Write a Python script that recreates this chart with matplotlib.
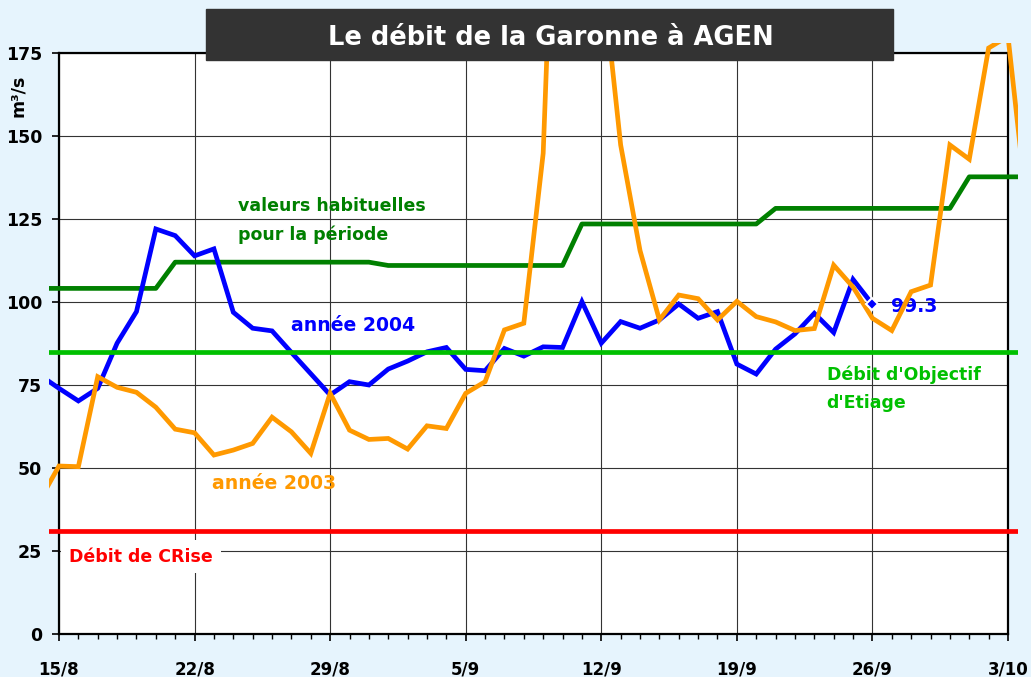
import numpy as np
import matplotlib
matplotlib.use("Agg")
import matplotlib.pyplot as plt
from matplotlib.patches import Rectangle

# jours comptés depuis le 15/8
jours_2003 = np.arange(-1, 51)
debit_2003 = [40.2, 50.6, 50.4, 77.5, 74.3, 72.8, 68.3, 61.7, 60.6, 53.9,
              55.4, 57.4, 65.3, 60.9, 54.4, 72.5, 61.4, 58.6, 58.9, 55.7,
              62.7, 61.9, 72.5, 76.0, 91.6, 93.6, 144.8, 300.0, 260.0, 202.0,
              147.3, 115.5, 94.6, 102.1, 101.0, 94.6, 100.2, 95.6, 94.0, 91.4,
              92.0, 111.1, 104.5, 95.1, 91.4, 103.1, 105.1, 147.3, 143.0, 176.5,
              180.0, 127.0]

jours_2004 = np.arange(-1, 43)
debit_2004 = [78.0, 74.0, 70.2, 74.0, 87.6, 97.1, 122.0, 120.0, 113.9, 116.0,
              96.9, 92.1, 91.3, 84.8, 78.4, 72.0, 76.0, 75.0, 79.8, 82.2,
              85.0, 86.3, 79.7, 79.3, 86.0, 83.7, 86.5, 86.3, 100.1, 87.6,
              94.1, 92.1, 94.6, 99.4, 95.1, 97.1, 81.3, 78.3, 85.8, 90.4,
              96.6, 90.8, 106.8, 99.3]

jours_hab = np.arange(-1, 51)
debit_hab = [104.1, 104.1, 104.1, 104.1, 104.1, 104.1, 104.1,
             112.0, 112.0, 112.0, 112.0, 112.0, 112.0, 112.0, 112.0, 112.0, 112.0, 112.0,
             111.0, 111.0, 111.0, 111.0, 111.0, 111.0, 111.0, 111.0, 111.0, 111.0,
             123.5, 123.5, 123.5, 123.5, 123.5, 123.5, 123.5, 123.5, 123.5, 123.5,
             128.2, 128.2, 128.2, 128.2, 128.2, 128.2, 128.2, 128.2, 128.2, 128.2,
             137.7, 137.7, 137.7, 137.7]

doe = 85      # Débit d'Objectif d'Etiage
dcr = 31      # Débit de CRise

tick_jours = [0, 7, 14, 21, 28, 35, 42, 49]
tick_labels = ["15/8", "22/8", "29/8", "5/9", "12/9", "19/9", "26/9", "3/10"]

fond = "#E6F4FD"
bleu = "#0000FF"
orange = "#FF9900"
vert = "#008000"
vert_clair = "#00C000"
rouge = "#FF0000"

plt.rcParams['font.family'] = ['DejaVu Sans']
plt.rcParams['font.weight'] = 'bold'

fig = plt.figure(figsize=(10.31, 6.77), dpi=100, facecolor=fond)
ax = fig.add_axes([59 / 1031, 43 / 677, 949 / 1031, 581 / 677])
ax.set_facecolor("white")

# les courbes débordent un peu du cadre (comme dans l'original)
zone = Rectangle((-0.5, -10), 50, 188, transform=ax.transData, visible=False)
ax.add_patch(zone)

lw = 3.4
courbes = []
courbes += ax.plot(jours_hab, debit_hab, color=vert, lw=lw, zorder=3)
courbes += ax.plot([jours_2003[0], jours_2003[-1]], [dcr, dcr], color=rouge, lw=lw, zorder=3)
courbes += ax.plot(jours_2004, debit_2004, color=bleu, lw=lw, zorder=4, solid_joinstyle='miter')
courbes += ax.plot([jours_2003[0], jours_2003[-1]], [doe, doe], color=vert_clair, lw=lw, zorder=5)
courbes += ax.plot(jours_2003, debit_2003, color=orange, lw=lw, zorder=6, solid_joinstyle='miter')
for c in courbes:
    c.set_clip_path(zone)

ax.plot(jours_2004[-1], debit_2004[-1], marker='D', ms=6.5, color=bleu,
        mec='white', mew=1.5, zorder=7)

ax.set_xlim(0, 49)
ax.set_ylim(0, 175)
ax.set_xticks(tick_jours)
ax.set_xticklabels(tick_labels)
ax.set_xticks(np.arange(0, 50), minor=True)
ax.set_yticks(np.arange(0, 176, 25))

ax.grid(True, which='major', color='#333333', lw=0.8)
ax.set_axisbelow(True)
for s in ax.spines.values():
    s.set_linewidth(1.6)
    s.set_color('black')

ax.tick_params(axis='x', which='major', length=5, width=1.2, pad=14, labelsize=12)
ax.tick_params(axis='x', which='minor', length=3.5, width=1)
ax.tick_params(axis='y', which='major', length=5, width=1.2, pad=7, labelsize=12.5)
for lab in ax.get_xticklabels() + ax.get_yticklabels():
    lab.set_fontweight('bold')

# annotations
ax.text(9.24, 127.4, "valeurs habituelles", color=vert, fontsize=12.5, fontweight='bold', va='baseline')
ax.text(9.24, 118.7, "pour la période", color=vert, fontsize=12.5, fontweight='bold', va='baseline')
ax.text(11.98, 91.4, "année 2004", color=bleu, fontsize=13.6, fontweight='bold', va='baseline')
ax.text(7.88, 43.6, "année 2003", color=orange, fontsize=13.6, fontweight='bold', va='baseline')
ax.text(0.52, 21.8, "Débit de CRise", color=rouge, fontsize=12.5, fontweight='bold', va='baseline',
        zorder=2, bbox=dict(fc='white', ec='none', boxstyle='square,pad=0.45'))
ax.text(39.63, 76.5, "Débit d'Objectif", color=vert_clair, fontsize=12.5, fontweight='bold', va='baseline')
ax.text(39.63, 68.0, "d'Etiage", color=vert_clair, fontsize=12.5, fontweight='bold', va='baseline')
ax.text(42.94, 97.1, f"{debit_2004[-1]:.1f}", color=bleu, fontsize=13.5, fontweight='bold', va='baseline')

# unité
fig.text(18 / 1031, 1 - 96 / 677, "m³/s", rotation=90, ha='center', va='center',
         fontsize=12.5, fontweight='bold')

# bandeau du titre
fig.add_artist(Rectangle((206 / 1031, 1 - 60 / 677), 687 / 1031, 51 / 677,
                         transform=fig.transFigure, color='#333333', zorder=10))
fig.text(551 / 1031, 1 - 45 / 677, "Le débit de la Garonne à AGEN", color='white',
         ha='center', va='baseline', fontsize=18.5, fontweight='bold', zorder=11)

fig.savefig("out.png", dpi=100, facecolor=fond)
